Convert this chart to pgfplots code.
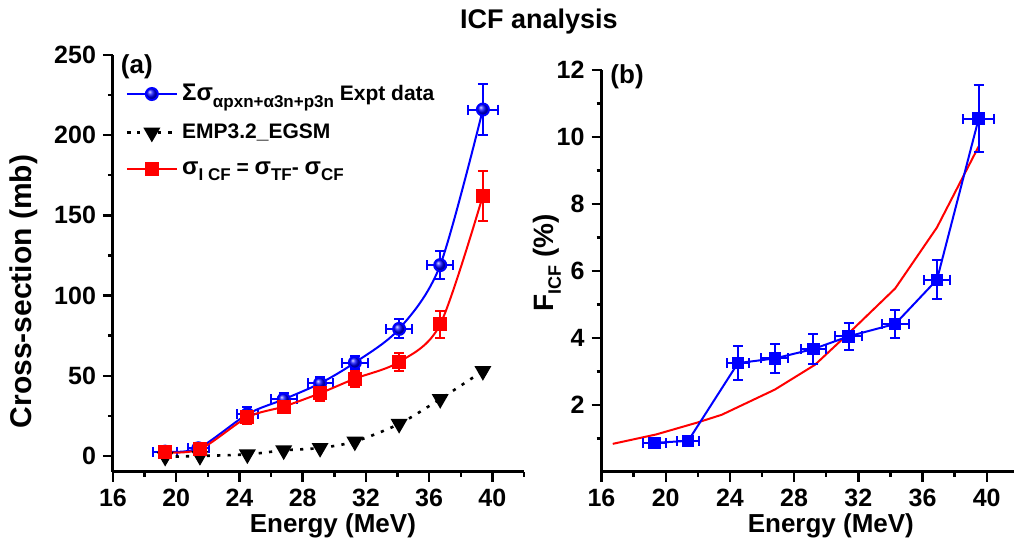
\documentclass[border=0pt]{standalone}
\usepackage{fontspec}
\setmainfont{Liberation Sans}
\usepackage{pgfplots}
\pgfplotsset{compat=1.18}
\begin{document}
\begin{tikzpicture}
\path[use as bounding box] (0pt,0pt) rectangle (507pt,273pt);
\pgfplotsset{
 common/.style={
  scale only axis,
  axis x line*=bottom, axis y line*=left,
  axis line style={line width=1.5pt},
  tick align=outside,
  major tick length=5pt, minor tick length=2.5pt,
  every tick/.style={line width=1.2pt, black},
  tick label style={font=\fontsize{12.5}{14}\selectfont\bfseries},
  label style={font=\fontsize{13}{15}\selectfont\bfseries},
  /pgf/number format/assume math mode=true,
  xmin=16, xtick={16,20,...,40}, minor xtick={18,22,...,42},
  clip=false,
 },
 ebar/.style={/pgfplots/error bars/x dir=both, /pgfplots/error bars/x explicit,
   /pgfplots/error bars/y dir=both, /pgfplots/error bars/y explicit,
   /pgfplots/error bars/error mark options={rotate=90, line width=1pt, mark size=2.5pt, #1},
   /pgfplots/error bars/error bar style={line width=1pt, #1}},
 ybar err/.style={/pgfplots/error bars/y dir=both, /pgfplots/error bars/y explicit,
   /pgfplots/error bars/error mark options={rotate=90, line width=1pt, mark size=2.5pt, #1},
   /pgfplots/error bars/error bar style={line width=1pt, #1}},
}
\begin{axis}[common, at={(56.5pt,37pt)}, anchor=south west,
  width=205.5pt, height=208.5pt, xmax=42, ymin=-10, ymax=250,
  ytick={0,50,...,250}, minor ytick={25,75,...,225},
  xlabel={Energy (MeV)}, ylabel={Cross-section (mb)},
  xlabel style={at={(axis description cs:0.535,-0.128)}, anchor=center},
  ylabel style={at={(axis description cs:-0.218,0.433)}, anchor=center, font=\fontsize{15}{17}\selectfont\bfseries},
  legend style={at={(axis description cs:0.015,0.95)}, anchor=north west, draw=none, fill=none,
    font=\fontsize{10.5}{12}\selectfont\bfseries, row sep=6pt},
  legend cell align=left,
  legend image code/.code={\draw[mark repeat=2,mark phase=2] plot coordinates {(0pt,0pt) (12.5pt,0pt) (25pt,0pt)};},
]
\addplot+[blue, line width=1pt, smooth, mark=ball, mark size=3pt, mark options={ball color=blue, solid},
  ebar=blue]
 coordinates {
 (19.3,2.7) +- (0.74,1.5)
 (21.4,4.8) +- (0.68,1.5)
 (24.5,26) +- (0.65,4.4)
 (26.8,35.3) +- (0.82,4)
 (29.1,45.3) +- (0.79,4.2)
 (31.3,58.2) +- (0.82,3.9)
 (34.1,79.2) +- (0.84,5.9)
 (36.7,119) +- (0.81,8.6)
 (39.4,216) +- (0.93,15.7)
 };
\addlegendentry{{\fontsize{12}{12}\selectfont Σσ}\raisebox{-0.6ex}{\fontsize{8.5}{9}\selectfont αpxn+α3n+p3n} Expt data}
\addplot+[black, line width=1.3pt, smooth, dash pattern=on 1.6pt off 3.6pt, mark=triangle*, mark size=3.6pt,
  mark options={rotate=180, solid, fill=black}]
 coordinates {
 (19.3,-0.5) (21.5,0) (24.5,1) (26.8,3.5) (29.1,5) (31.3,9) (34.1,20) (36.7,35.5) (39.4,53)
 };
\addlegendentry{EMP3.2\_EGSM}
\addplot+[red, line width=1pt, smooth, mark=square*, mark size=3pt, mark options={solid, fill=red},
  ybar err=red]
 coordinates {
 (19.3,2.3) +- (0,1)
 (21.5,4.2) +- (0,1.5)
 (24.5,24.1) +- (0,4.2)
 (26.8,30.8) +- (0,4.2)
 (29.1,39.1) +- (0,4.7)
 (31.3,48.2) +- (0,5)
 (34.1,58.6) +- (0,5.7)
 (36.7,82.1) +- (0,8.3)
 (39.4,162.3) +- (0,15.5)
 };
\addlegendentry{{\fontsize{12}{12}\selectfont σ}\raisebox{-0.6ex}{\fontsize{8.5}{9}\selectfont I CF} = {\fontsize{12}{12}\selectfont σ}\raisebox{-0.6ex}{\fontsize{8.5}{9}\selectfont TF}- {\fontsize{12}{12}\selectfont σ}\raisebox{-0.6ex}{\fontsize{8.5}{9}\selectfont CF}}
\node[font=\fontsize{13}{15}\selectfont\bfseries] at (axis description cs:0.058,0.971) {(a)};
\end{axis}

\begin{axis}[common, at={(300.75pt,37pt)}, anchor=south west,
  width=206.25pt, height=201pt, xmax=41.7, ymin=0, ymax=12,
  ytick={2,4,...,12}, minor ytick={1,3,...,11},
  xlabel={Energy (MeV)}, ylabel={F\raisebox{-0.5ex}{\fontsize{9}{10}\selectfont ICF} (\%)},
  xlabel style={at={(axis description cs:0.556,-0.133)}, anchor=center},
  ylabel style={at={(axis description cs:-0.132,0.52)}, anchor=center, font=\fontsize{14}{16}\selectfont\bfseries},
]
\addplot+[red, line width=1pt, no marks]
 coordinates {
 (16.7,0.84) (19.4,1.12) (22.0,1.48) (23.5,1.71) (26.8,2.46) (29.3,3.2) (31.4,4.14) (34.3,5.48) (36.9,7.3) (39.5,9.72)
 };
\addplot+[blue, line width=1pt, mark=square*, mark size=2.6pt, mark options={solid, fill=blue},
  ebar=blue]
 coordinates {
 (19.3,0.87) +- (0.74,0.05)
 (21.4,0.93) +- (0.68,0.05)
 (24.5,3.25) +- (0.68,0.5)
 (26.8,3.39) +- (0.84,0.42)
 (29.2,3.67) +- (0.76,0.44)
 (31.4,4.05) +- (0.84,0.40)
 (34.3,4.42) +- (0.84,0.41)
 (36.9,5.74) +- (0.79,0.58)
 (39.5,10.55) +- (0.98,1.0)
 };
\node[font=\fontsize{13}{15}\selectfont\bfseries] at (axis description cs:0.062,0.983) {(b)};
\end{axis}
\node[font=\fontsize{13.5}{15}\selectfont\bfseries] at (269.5pt,262.25pt) {ICF analysis};
\end{tikzpicture}
\end{document}
